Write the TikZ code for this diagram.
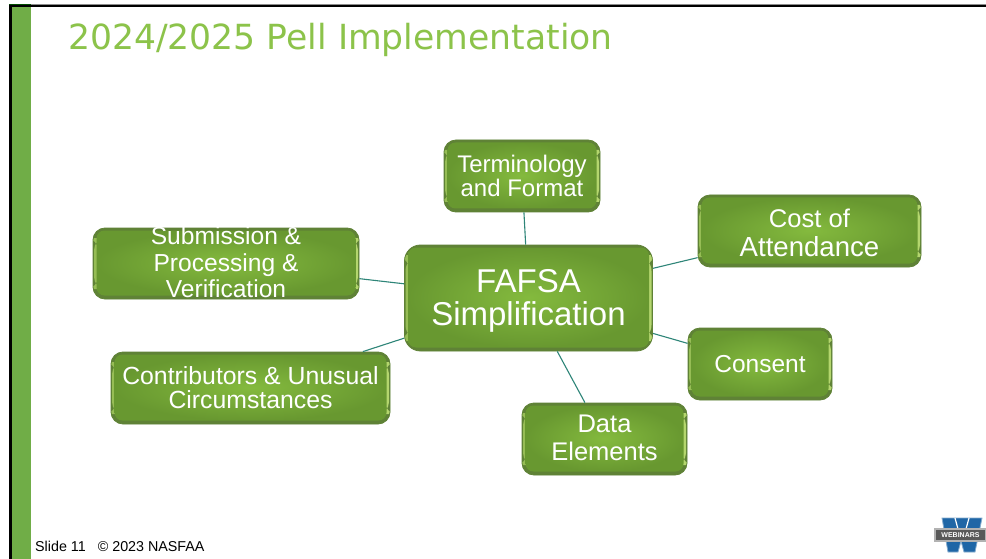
\documentclass[tikz,border=0pt]{standalone}
\usepackage{fontspec}
\setmainfont{Liberation Sans}
\newfontfamily\titlefont{DejaVu Sans}
\definecolor{slideGreen}{HTML}{70AD47}
\definecolor{titleGreen}{HTML}{8CC34A}
\definecolor{edgeTeal}{HTML}{2E8578}
\definecolor{logoBlue}{HTML}{1F66A6}
\definecolor{bevelIn}{HTML}{84BA3E}
\definecolor{bevelOut}{HTML}{689830}
\definecolor{bevelDark}{HTML}{5F8236}
\definecolor{bevelLight}{HTML}{B4D66E}
\tikzstyle{topicNode}=[draw=bevelDark,line width=0.8pt,rounded corners=12pt,fill=bevelDark,text=white,align=center,inner sep=0pt,path picture={
    \fill[bevelLight!60!bevelOut] ([shift={(1pt,10pt)}]path picture bounding box.south west) rectangle ([shift={(5pt,-10pt)}]path picture bounding box.north west);
    \fill[bevelLight] ([shift={(-5pt,10pt)}]path picture bounding box.south east) rectangle ([shift={(-1pt,-10pt)}]path picture bounding box.north east);
    \shade[inner color=bevelIn,outer color=bevelOut,rounded corners=8pt]
      ([shift={(3.5pt,3.5pt)}]path picture bounding box.south west) rectangle
      ([shift={(-3.5pt,-2.5pt)}]path picture bounding box.north east);}]
\tikzstyle{spoke}=[edgeTeal,line width=1.1pt]
\newcommand{\topicfont}[2]{\fontsize{#1}{#2}\selectfont}

\begin{document}
\begin{tikzpicture}[x=1pt,y=-1pt]

    \useasboundingbox (0,0) rectangle (986,559);
    \fill[white] (0,0) rectangle (986,559);
    \fill[black!45] (9,4) rectangle (986,5);
    \fill[black] (9,5) rectangle (986,7);
    \fill[slideGreen] (12,7) rectangle (31,559);
    \fill[black] (9,5) rectangle (12,559);
    \fill[green!30!black] (9,4) rectangle (31,5);

    \node[anchor=base west,text=titleGreen,font=\titlefont\fontsize{34.6}{35}\selectfont,inner sep=0pt] (title) at (68,50) {2024/2025 Pell Implementation};
    \node[anchor=base west,font=\fontsize{14.3}{14}\selectfont,inner sep=0pt] (footer) at (35,551) {Slide 11\hspace{12pt}\textcopyright{} 2023 NASFAA};

    \node[topicNode,rounded corners=16pt,minimum width=248pt,minimum height=106pt,font=\topicfont{33}{33}] (fafsa) at (528.5,298) {\rule{0pt}{29pt}FAFSA\\Simplification};
    \node[topicNode,minimum width=156pt,minimum height=72pt,font=\topicfont{24}{24}] (term) at (522,176) {Terminology\\and Format};
    \node[topicNode,minimum width=223pt,minimum height=72pt,font=\topicfont{25.6}{29}] (cost) at (809.5,231) {\rule{0pt}{22pt}Cost of\\\topicfont{27.6}{29}Attendance};
    \node[topicNode,minimum width=144pt,minimum height=72pt,font=\topicfont{24.5}{25}] (consent) at (760,364) {Consent};
    \node[topicNode,minimum width=165pt,minimum height=72pt,font=\topicfont{25.5}{28}] (data) at (604.5,439) {Data\\Elements\rule[-3pt]{0pt}{0pt}};
    \node[topicNode,minimum width=279pt,minimum height=72pt,font=\topicfont{24.8}{24}] (contrib) at (250.5,388) {Contributors \& Unusual\\Circumstances};
    \node[topicNode,minimum width=266pt,minimum height=71pt,inner ysep=-10pt,font=\topicfont{24.6}{26.5}] (submit) at (226,263.5) {Submission \&\\Processing \&\\Verification\rule[-2.5pt]{0pt}{0pt}};

    \draw[spoke] (fafsa) to (term);
    \draw[spoke] (fafsa) to (cost);
    \draw[spoke] (fafsa) to (consent);
    \draw[spoke] (fafsa) to (data);
    \draw[spoke] (fafsa) to (contrib);
    \draw[spoke] (fafsa) to (submit);

    % logo
    \fill[logoBlue,draw=logoBlue!55!white,line width=0.8pt] (942,518) -- (982,518) -- (975,552) -- (964,552) -- (961,541) -- (958,552) -- (948,552) -- cycle;
    \draw[white,line width=1.2pt] (955,518) -- (958,529) (969,518) -- (966,529);
    \node[fill=black!65,draw=black!30,line width=1.5pt,text=white,minimum width=51pt,minimum height=12pt,inner sep=0pt,font=\bfseries\fontsize{7}{7}\selectfont] (logo) at (960.5,535) {WEBINARS};

\end{tikzpicture}
\end{document}
